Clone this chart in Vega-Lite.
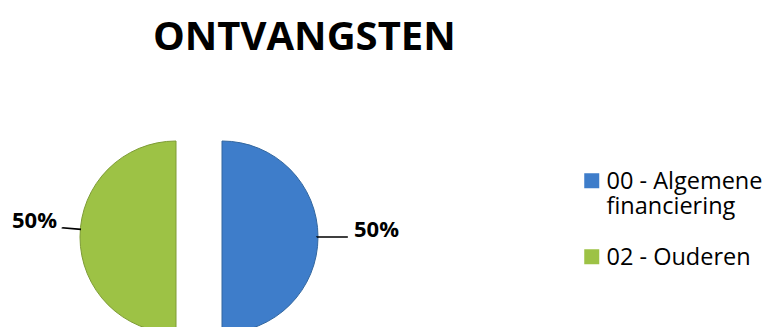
{
  "$schema": "https://vega.github.io/schema/vega-lite/v6.json",
  "width": 398,
  "height": 180,
  "autosize": "none",
  "padding": {"left": 0, "top": 147, "right": 365, "bottom": 0},
  "background": "white",
  "view": {"stroke": null},
  "title": {
    "text": "ONTVANGSTEN",
    "font": "Open Sans",
    "fontSize": 40,
    "fontWeight": "bold",
    "color": "black",
    "anchor": "start",
    "frame": "group",
    "baseline": "alphabetic",
    "dx": 153,
    "offset": 21
  },
  "data": {
    "values": [
      {"cat": "00 - Algemene financiering", "share": 0.5},
      {"cat": "02 - Ouderen", "share": 0.5}
    ]
  },
  "encoding": {
    "theta": {"field": "share", "type": "quantitative", "stack": true}
  },
  "layer": [
    {
      "mark": {"type": "arc", "outerRadius": 96, "xOffset": 23, "stroke": "#33679F", "strokeWidth": 1},
      "encoding": {
        "color": {
          "field": "cat",
          "type": "nominal",
          "scale": {"domain": ["00 - Algemene financiering", "02 - Ouderen"], "range": ["#3E7DCA", "#9DC245"]},
          "legend": {
            "orient": "none",
            "legendX": 580,
            "legendY": 30,
            "title": null,
            "padding": 0,
            "symbolType": "M-1,-2.067H1V-0.067H-1Z",
            "symbolSize": 225,
            "symbolStrokeWidth": 0,
            "labelFont": "Open Sans",
            "labelFontSize": 23.5,
            "labelColor": "black",
            "labelOffset": 3,
            "labelLimit": 400,
            "labelBaseline": "alphabetic",
            "rowPadding": 26,
            "labelExpr": "datum.label == '00 - Algemene financiering' ? ['00 - Algemene', 'financiering'] : datum.label"
          }
        },
        "opacity": {"condition": {"test": "datum.cat === '00 - Algemene financiering'", "value": 1}, "value": 0}
      }
    },
    {
      "mark": {"type": "arc", "outerRadius": 96, "xOffset": -23, "stroke": "#7E9C36", "strokeWidth": 1},
      "encoding": {
        "color": {"field": "cat", "type": "nominal"},
        "opacity": {"condition": {"test": "datum.cat === '02 - Ouderen'", "value": 1}, "value": 0}
      }
    },
    {
      "mark": {"type": "arc", "innerRadius": 95, "outerRadius": 126, "xOffset": 23, "thetaOffset": 1.5708, "filled": false, "stroke": "black", "strokeWidth": 1.6, "strokeDash": [0, 395.84, 31, 3000]},
      "encoding": {
        "opacity": {"condition": {"test": "datum.cat === '00 - Algemene financiering'", "value": 1}, "value": 0}
      }
    },
    {
      "mark": {"type": "arc", "innerRadius": 95, "outerRadius": 114, "xOffset": -23, "thetaOffset": 1.6508, "filled": false, "stroke": "black", "strokeWidth": 1.6, "strokeDash": [0, 358.14, 19, 3000]},
      "encoding": {
        "opacity": {"condition": {"test": "datum.cat === '02 - Ouderen'", "value": 1}, "value": 0}
      }
    },
    {
      "mark": {"type": "text", "radius": 132, "xOffset": 23, "align": "left", "baseline": "alphabetic", "font": "Open Sans", "fontWeight": "bold", "fontSize": 22, "color": "black"},
      "encoding": {
        "text": {"field": "share", "type": "quantitative", "format": ".0%"},
        "opacity": {"condition": {"test": "datum.cat === '00 - Algemene financiering'", "value": 1}, "value": 0}
      }
    },
    {
      "mark": {"type": "text", "radius": 119, "xOffset": -23, "yOffset": -9, "align": "right", "baseline": "alphabetic", "font": "Open Sans", "fontWeight": "bold", "fontSize": 22, "color": "black"},
      "encoding": {
        "text": {"field": "share", "type": "quantitative", "format": ".0%"},
        "opacity": {"condition": {"test": "datum.cat === '02 - Ouderen'", "value": 1}, "value": 0}
      }
    }
  ]
}
